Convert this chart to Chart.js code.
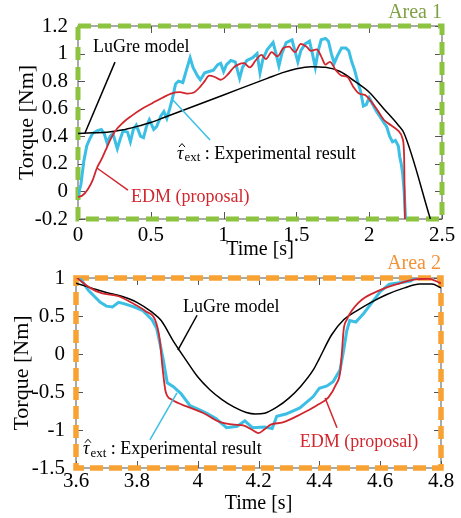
<!DOCTYPE html>
<html><head><meta charset="utf-8">
<script src="https://cdn.jsdelivr.net/npm/chart.js@4"></script>
<style>
html,body{margin:0;padding:0;background:#fff;}
#wrap{position:relative;width:461px;height:518px;overflow:hidden;background:#fff;}
canvas{position:absolute;left:0;}
#c1{top:0;width:461px;height:262px;}
#c2{top:250px;width:461px;height:268px;}
#fp{position:absolute;left:-999px;top:0;font-family:"Liberation Serif";font-size:20px;}
</style></head><body>
<div id="fp">Liberation Serif &#964; 0.5</div>
<div id="wrap"><canvas id="c1" width="461" height="262"></canvas><canvas id="c2" width="461" height="268"></canvas></div>
<script>
const SERIF = "'Liberation Serif', 'Times New Roman', Times, serif";
Chart.defaults.font.family = SERIF;
Chart.defaults.color = '#000';

// ===== Area 1 (top) =====
const a1XTicks = [0, 0.5, 1, 1.5, 2, 2.5];
const a1YTicks = [-0.2, 0, 0.2, 0.4, 0.6, 0.8, 1, 1.2];

const a1LuGreT = [0, 0.1, 0.2, 0.3, 0.4, 0.5, 0.6, 0.7, 0.8, 0.9, 1.0, 1.1, 1.2, 1.3, 1.4, 1.5, 1.6, 1.7, 1.8, 1.9, 2.0, 2.1, 2.2, 2.24, 2.42];
const a1LuGreV = [0.42, 0.425, 0.43, 0.445, 0.47, 0.5, 0.54, 0.58, 0.62, 0.66, 0.70, 0.74, 0.78, 0.82, 0.86, 0.89, 0.905, 0.90, 0.87, 0.80, 0.72, 0.60, 0.48, 0.42, -0.2];

const a1EdmT = [0, 0.03, 0.07, 0.10, 0.13, 0.16, 0.19, 0.22, 0.25, 0.31, 0.37, 0.44, 0.51, 0.58, 0.64, 0.70, 0.75, 0.80, 0.84, 0.87, 0.90, 0.94, 0.98, 1.03, 1.07, 1.10, 1.14, 1.18, 1.22, 1.26, 1.29, 1.33, 1.37, 1.41, 1.45, 1.49, 1.53, 1.57, 1.60, 1.64, 1.67, 1.70, 1.73, 1.77, 1.81, 1.85, 1.89, 1.93, 1.97, 2.00, 2.05, 2.10, 2.15, 2.20, 2.23, 2.24, 2.245];
const a1EdmV = [-0.04, -0.03, 0.02, 0.08, 0.17, 0.23, 0.30, 0.37, 0.43, 0.50, 0.55, 0.60, 0.64, 0.68, 0.71, 0.72, 0.71, 0.72, 0.76, 0.80, 0.84, 0.83, 0.81, 0.85, 0.90, 0.92, 0.93, 0.90, 0.95, 0.99, 0.96, 1.01, 0.98, 1.04, 1.05, 1.01, 1.07, 1.05, 1.02, 1.03, 0.98, 0.92, 0.94, 0.88, 0.84, 0.83, 0.76, 0.71, 0.70, 0.67, 0.60, 0.52, 0.48, 0.44, 0.38, 0.25, -0.2];

const a1ExpT = [0, 0.02, 0.04, 0.06, 0.08, 0.10, 0.13, 0.16, 0.18, 0.20, 0.22, 0.24, 0.27, 0.29, 0.31, 0.34, 0.36, 0.38, 0.40, 0.43, 0.45, 0.47, 0.49, 0.52, 0.54, 0.57, 0.59, 0.61, 0.63, 0.65, 0.67, 0.69, 0.72, 0.75, 0.77, 0.79, 0.82, 0.84, 0.87, 0.90, 0.93, 0.96, 0.98, 1.00, 1.02, 1.05, 1.08, 1.11, 1.13, 1.16, 1.20, 1.23, 1.25, 1.27, 1.30, 1.34, 1.36, 1.38, 1.40, 1.43, 1.47, 1.49, 1.51, 1.53, 1.56, 1.59, 1.61, 1.63, 1.65, 1.67, 1.70, 1.72, 1.74, 1.76, 1.78, 1.81, 1.84, 1.86, 1.88, 1.90, 1.92, 1.94, 1.96, 1.98, 2.00, 2.02, 2.05, 2.07, 2.10, 2.12, 2.14, 2.16, 2.18, 2.20, 2.21, 2.22, 2.23, 2.24, 2.25];
const a1ExpV = [-0.03, 0.05, 0.22, 0.33, 0.38, 0.42, 0.44, 0.45, 0.42, 0.35, 0.40, 0.42, 0.31, 0.38, 0.44, 0.43, 0.36, 0.45, 0.48, 0.40, 0.39, 0.47, 0.52, 0.45, 0.47, 0.55, 0.58, 0.53, 0.60, 0.68, 0.78, 0.80, 0.79, 0.90, 0.97, 0.90, 0.84, 0.81, 0.86, 0.87, 0.88, 0.92, 0.93, 0.87, 0.92, 0.95, 0.94, 0.82, 0.90, 0.95, 0.97, 1.00, 0.86, 0.96, 1.03, 1.08, 1.00, 0.91, 1.00, 1.08, 1.10, 1.02, 0.94, 1.02, 1.07, 1.09, 1.00, 0.90, 1.02, 1.10, 1.11, 1.09, 1.00, 0.93, 0.98, 1.04, 1.04, 1.02, 0.94, 0.88, 0.80, 0.73, 0.62, 0.63, 0.68, 0.64, 0.58, 0.55, 0.50, 0.47, 0.40, 0.36, 0.37, 0.33, 0.25, 0.20, 0.13, 0.0, -0.2];

// ===== Area 2 (bottom) =====
const a2XTicks = [3.6, 3.8, 4.0, 4.2, 4.4, 4.6, 4.8];
const a2YTicks = [-1.5, -1, -0.5, 0, 0.5, 1];

const a2LuGreT = [3.60, 3.65, 3.70, 3.75, 3.80, 3.85, 3.88, 3.92, 3.96, 4.00, 4.04, 4.08, 4.12, 4.16, 4.19, 4.22, 4.26, 4.30, 4.34, 4.38, 4.40, 4.44, 4.48, 4.52, 4.57, 4.62, 4.68, 4.73, 4.77, 4.80];
const a2LuGreV = [0.93, 0.87, 0.81, 0.76, 0.68, 0.55, 0.44, 0.17, -0.07, -0.30, -0.47, -0.60, -0.70, -0.77, -0.79, -0.78, -0.70, -0.58, -0.42, -0.21, -0.06, 0.25, 0.45, 0.56, 0.68, 0.78, 0.87, 0.92, 0.92, 0.87];

const a2EdmT = [3.60, 3.613, 3.646, 3.684, 3.74, 3.78, 3.83, 3.86, 3.875, 3.885, 3.895, 3.915, 3.97, 4.02, 4.07, 4.12, 4.15, 4.18, 4.20, 4.22, 4.24, 4.28, 4.34, 4.39, 4.43, 4.455, 4.468, 4.474, 4.48, 4.49, 4.53, 4.60, 4.665, 4.71, 4.76, 4.80];
const a2EdmV = [1.02, 0.97, 0.87, 0.80, 0.76, 0.68, 0.56, 0.45, 0.20, -0.20, -0.50, -0.60, -0.70, -0.78, -0.89, -0.93, -0.94, -1.00, -1.04, -0.99, -0.93, -0.90, -0.79, -0.68, -0.57, -0.40, -0.25, 0.01, 0.32, 0.45, 0.68, 0.84, 0.93, 0.98, 0.99, 0.93];

const a2ExpT = [3.60, 3.62, 3.64, 3.66, 3.68, 3.70, 3.72, 3.74, 3.76, 3.79, 3.82, 3.85, 3.865, 3.876, 3.887, 3.90, 3.92, 3.945, 3.975, 4.01, 4.03, 4.06, 4.095, 4.13, 4.155, 4.18, 4.22, 4.245, 4.26, 4.29, 4.336, 4.38, 4.40, 4.425, 4.446, 4.468, 4.48, 4.49, 4.50, 4.52, 4.545, 4.566, 4.60, 4.63, 4.67, 4.70, 4.72, 4.75];
const a2ExpV = [1.05, 0.96, 0.84, 0.76, 0.68, 0.63, 0.62, 0.68, 0.66, 0.62, 0.57, 0.45, 0.34, 0.14, -0.08, -0.38, -0.43, -0.52, -0.68, -0.74, -0.78, -0.85, -0.97, -0.95, -0.88, -0.97, -0.96, -0.98, -0.82, -0.79, -0.71, -0.56, -0.45, -0.42, -0.36, -0.21, 0.05, 0.30, 0.44, 0.42, 0.53, 0.64, 0.82, 0.92, 0.94, 0.96, 1.02, 1.05];

// ===== styling =====
const C_RED = '#d1262d', C_CYAN = '#3bbfe4', C_BLACK = '#000';
const TICK_SIZE = 21;

function pts(T, V) { return T.map((t, i) => ({x: t, y: V[i]})); }
function fmt(v) { return String(Number(Number(v).toFixed(2))); }

function drawTau(ctx, x, y, size) {
  ctx.save();
  ctx.fillStyle = '#000';
  ctx.textBaseline = 'middle';
  ctx.textAlign = 'left';
  ctx.font = 'italic ' + size + 'px ' + SERIF;
  ctx.fillText('\u03C4', x, y);
  const w = ctx.measureText('\u03C4').width;
  ctx.strokeStyle = '#000'; ctx.lineWidth = 1;
  ctx.beginPath();
  ctx.moveTo(x + 2, y - 7); ctx.lineTo(x + 5, y - 10.5); ctx.lineTo(x + 8, y - 7);
  ctx.stroke();
  let cx = x + w + 1;
  ctx.font = Math.round(size * 0.72) + 'px ' + SERIF;
  ctx.fillText('ext', cx, y + 4);
  cx += ctx.measureText('ext').width;
  ctx.font = size + 'px ' + SERIF;
  ctx.fillText(' : Experimental result', cx, y);
  ctx.restore();
}

const framePlugin = {
  id: 'framePlugin',
  beforeDatasetsDraw(chart, args, o) {
    const {ctx, chartArea: a} = chart;
    const xs = chart.scales.x, ys = chart.scales.y;
    ctx.save();
    ctx.strokeStyle = '#555'; ctx.lineWidth = 1;
    ctx.strokeRect(a.left, a.top, a.width, a.height);
    const L = 7;
    ctx.beginPath();
    xs.ticks.forEach(t => {
      const p = Math.round(xs.getPixelForValue(t.value)) + 0.5;
      ctx.moveTo(p, a.bottom); ctx.lineTo(p, a.bottom - L);
      ctx.moveTo(p, a.top); ctx.lineTo(p, a.top + L);
    });
    ys.ticks.forEach(t => {
      const p = Math.round(ys.getPixelForValue(t.value)) + 0.5;
      ctx.moveTo(a.left, p); ctx.lineTo(a.left + L, p);
      ctx.moveTo(a.right, p); ctx.lineTo(a.right - L, p);
    });
    ctx.stroke();
    ctx.setLineDash(o.dash);
    ctx.lineWidth = o.width;
    ctx.strokeStyle = o.color;
    ctx.strokeRect(a.left, a.top, a.width, a.height);
    ctx.restore();
  },
  afterDatasetsDraw(chart, args, o) {
    const {ctx, chartArea: a} = chart;
    const xs = chart.scales.x, ys = chart.scales.y;
    ctx.save();
    (o.notes || []).forEach(n => {
      ctx.strokeStyle = n.lineColor; ctx.lineWidth = 1.5;
      ctx.beginPath();
      ctx.moveTo(xs.getPixelForValue(n.p[0]), ys.getPixelForValue(n.p[1]));
      ctx.lineTo(xs.getPixelForValue(n.p[2]), ys.getPixelForValue(n.p[3]));
      ctx.stroke();
      const tx = xs.getPixelForValue(n.tx), ty = ys.getPixelForValue(n.ty);
      if (n.tau) { drawTau(ctx, tx, ty, 18); }
      else {
        ctx.fillStyle = n.color; ctx.font = '18px ' + SERIF;
        ctx.textBaseline = 'middle'; ctx.textAlign = 'left';
        ctx.fillText(n.text, tx, ty);
      }
    });
    ctx.fillStyle = o.labelColor; ctx.font = '20px ' + SERIF;
    ctx.textAlign = 'right'; ctx.textBaseline = 'alphabetic';
    ctx.fillText(o.label, a.right, a.top - o.labelGap);
    ctx.restore();
  }
};

function makeChart(id, c) {
  return new Chart(document.getElementById(id), {
    type: 'line',
    data: { datasets: [
      { label: 'EDM (proposal)', data: pts(c.edmT, c.edmV), borderColor: C_RED, borderWidth: 1.8, pointRadius: 0, cubicInterpolationMode: 'monotone' },
      { label: 'LuGre model', data: pts(c.lugT, c.lugV), borderColor: C_BLACK, borderWidth: 1.5, pointRadius: 0, cubicInterpolationMode: 'monotone' },
      { label: 'Experimental result', data: pts(c.expT, c.expV), borderColor: C_CYAN, borderWidth: 3, pointRadius: 0, tension: 0 }
    ]},
    options: {
      responsive: false, devicePixelRatio: 1, animation: false,
      layout: { padding: c.pad },
      plugins: { legend: {display: false}, tooltip: {enabled: false},
        framePlugin: { dash: c.dash, width: c.bw, color: c.bc, notes: c.notes, label: c.label, labelColor: c.labelColor, labelGap: c.labelGap } },
      scales: {
        x: { type: 'linear', min: c.xmin, max: c.xmax,
          afterBuildTicks: s => { s.ticks = c.xt.map(v => ({value: v})); },
          afterFit: s => { s.height = c.xh; },
          grid: {display: false, drawTicks: false}, border: {display: false},
          ticks: { autoSkip: false, maxRotation: 0, padding: c.xpad, font: {size: TICK_SIZE, family: SERIF}, color: '#000', callback: v => fmt(v) },
          title: { display: true, text: 'Time [s]', font: {size: 20, family: SERIF}, color: '#000', padding: {top: 0, bottom: c.xtb} } },
        y: { type: 'linear', min: c.ymin, max: c.ymax,
          afterBuildTicks: s => { s.ticks = c.yt.map(v => ({value: v})); },
          afterFit: s => { s.width = c.yw; },
          grid: {display: false, drawTicks: false}, border: {display: false},
          ticks: { autoSkip: false, padding: c.ypad, font: {size: TICK_SIZE, family: SERIF}, color: '#000', callback: v => fmt(v) },
          title: { display: true, text: 'Torque [Nm]', font: {size: 22, family: SERIF}, color: '#000', padding: {top: c.ytt, bottom: 0} } }
      }
    },
    plugins: [framePlugin]
  });
}

function build() {
  makeChart('c1', {
    xmin: 0, xmax: 2.5, ymin: -0.2, ymax: 1.2, xt: a1XTicks, yt: a1YTicks,
    lugT: a1LuGreT, lugV: a1LuGreV, edmT: a1EdmT, edmV: a1EdmV, expT: a1ExpT, expV: a1ExpV,
    pad: {left: 0, top: 26, right: 19, bottom: 0}, xh: 43, yw: 78, xpad: 4, xtb: 0, ypad: 10, ytt: 14,
    dash: [13, 7], bw: 5, bc: '#8cc43f', label: 'Area 1', labelColor: '#7fa043', labelGap: 8,
    notes: [
      {text: 'LuGre model', color: '#000', lineColor: '#000', tx: 0.103, ty: 1.047, p: [0.254, 0.938, 0.048, 0.424]},
      {tau: true, lineColor: C_CYAN, tx: 0.68, ty: 0.271, p: [0.907, 0.373, 0.652, 0.663]},
      {text: 'EDM (proposal)', color: C_RED, lineColor: C_RED, tx: 0.364, ty: -0.04, p: [0.343, 0.01, 0.13, 0.17]}
    ]
  });
  makeChart('c2', {
    xmin: 3.6, xmax: 4.8, ymin: -1.5, ymax: 1, xt: a2XTicks, yt: a2YTicks,
    lugT: a2LuGreT, lugV: a2LuGreV, edmT: a2EdmT, edmV: a2EdmV, expT: a2ExpT, expV: a2ExpV,
    pad: {left: 0, top: 28, right: 20, bottom: 0}, xh: 50, yw: 76, xpad: 1, xtb: 2, ypad: 11, ytt: 9,
    dash: [13, 6], bw: 5.5, bc: '#f8a233', label: 'Area 2', labelColor: '#f39237', labelGap: 9,
    notes: [
      {text: 'LuGre model', color: '#000', lineColor: '#000', tx: 3.952, ty: 0.62, p: [3.998, 0.51, 3.935, 0.05]},
      {tau: true, lineColor: C_CYAN, tx: 3.623, ty: -1.26, p: [3.843, -1.13, 3.932, -0.51]},
      {text: 'EDM (proposal)', color: C_RED, lineColor: C_RED, tx: 4.336, ty: -1.16, p: [4.458, -0.97, 4.419, -0.58]}
    ]
  });
}

let built = false;
function go() { if (!built) { built = true; build(); } }
if (document.fonts && document.fonts.load) {
  Promise.all([
    document.fonts.load("20px 'Liberation Serif'"),
    document.fonts.load("italic 20px 'Liberation Serif'")
  ]).then(go, go);
  setTimeout(go, 1500);
} else { go(); }
</script>
</body></html>
